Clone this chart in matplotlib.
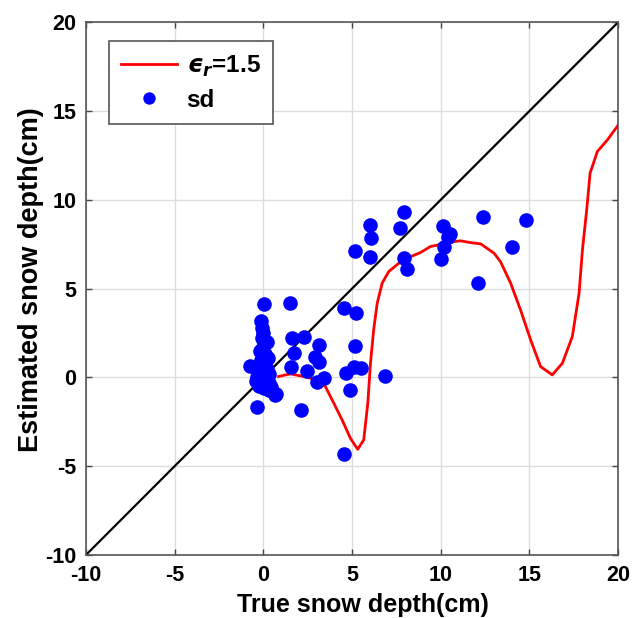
import matplotlib
matplotlib.use("Agg")
import matplotlib.pyplot as plt

plt.rcParams['font.family'] = ['Liberation Sans', 'DejaVu Sans']
plt.rcParams['font.weight'] = 'bold'
plt.rcParams['axes.unicode_minus'] = False
plt.rcParams['mathtext.fontset'] = 'custom'
plt.rcParams['mathtext.rm'] = 'Liberation Sans:bold'
plt.rcParams['mathtext.it'] = 'DejaVu Sans:italic:bold'
plt.rcParams['mathtext.bf'] = 'Liberation Sans:bold'

# Modelled estimate for relative permittivity 1.5
curve_x = [0.86, 1.52, 2.27, 3.03, 3.5, 3.97, 4.44, 4.91, 5.32, 5.66, 5.89, 6.04,
           6.22, 6.42, 6.7, 7.07, 7.64, 8.3, 8.86, 9.42, 10.37, 10.74, 11.12, 11.68,
           12.25, 13.0, 13.37, 13.94, 14.5, 15.07, 15.63, 16.29, 16.86, 17.42, 17.8,
           17.99, 18.23, 18.42, 18.83, 19.4, 20.0]
curve_y = [0.05, 0.2, 0.05, -0.14, -0.52, -1.45, -2.39, -3.43, -4.05, -3.52, -1.45, 0.8,
           2.68, 4.18, 5.31, 5.96, 6.43, 6.8, 7.03, 7.37, 7.56, 7.65, 7.69, 7.59,
           7.52, 7.0, 6.52, 5.31, 3.8, 2.11, 0.61, 0.14, 0.8, 2.3, 4.74,
           7.18, 9.44, 11.5, 12.72, 13.38, 14.2]

# Snow depth samples: true vs estimated
sd_true = [0.02, -0.11, 0.0, -0.1, 0.05, -0.05, 0.1, -0.15, 0.0, 0.2, -0.2, 0.1,
           -0.1, 0.3, -0.25, 0.05, 0.45, -0.35, 0.2, -0.2, 0.25, 0.3, -0.4, -0.73,
           -0.36, 0.68, 0.3, -0.05, 0.1,
           1.52, 4.53, 5.25, 1.62, 2.27, 3.12, 1.71, 2.93, 3.12, 5.19, 1.56, 2.47,
           3.03, 3.4, 4.68, 5.1, 5.48, 6.88, 4.87, 2.13, 4.57, 0.73,
           7.92, 6.0, 7.73, 6.08, 5.14, 6.0, 7.92, 8.11,
           10.12, 10.55, 10.18, 9.99, 10.4, 12.36, 14.82, 14.03, 12.09]
sd_est = [4.14, 3.2, 2.5, 2.2, 1.9, 1.6, 1.3, 1.0, 0.8, 0.5, 0.3, 0.1,
          -0.1, -0.3, -0.5, -0.6, -0.55, 0.05, 2.0, 1.5, 1.1, 0.2, -0.2, 0.65,
          -1.64, -0.99, -0.7, 2.8, 1.2,
          4.21, 3.9, 3.6, 2.21, 2.3, 1.83, 1.36, 1.17, 0.89, 1.77, 0.61, 0.38,
          -0.24, -0.05, 0.24, 0.61, 0.52, 0.1, -0.7, -1.83, -4.31, -0.93,
          9.34, 8.59, 8.44, 7.86, 7.09, 6.8, 6.71, 6.1,
          8.54, 8.08, 7.37, 6.66, 7.9, 9.06, 8.87, 7.37, 5.34]

ticks = [-10, -5, 0, 5, 10, 15, 20]
one_to_one = [-10, 20]

fig = plt.figure(figsize=(6.32, 6.18), dpi=100)
ax = fig.add_axes([0.136, 0.102, 0.842, 0.862])

ax.grid(True, color='#dcdcdc', linewidth=1.0)
ax.set_axisbelow(True)

ax.plot(one_to_one, one_to_one, color='black', linewidth=1.6, zorder=2)
ax.plot(curve_x, curve_y, color='red', linewidth=2.0, zorder=3,
        label='$\u03f5_r$=1.5')
ax.plot(sd_true, sd_est, 'o', color='blue', markersize=10.5, markeredgewidth=0,
        zorder=4, label='sd')

ax.set_xlim(-10, 20)
ax.set_ylim(-10, 20)
ax.set_xticks(ticks)
ax.set_yticks(ticks)
ax.tick_params(direction='in', top=True, right=True, length=4, width=1.0,
               labelsize=15.5, color='#444444', pad=7)
for lab in ax.get_xticklabels() + ax.get_yticklabels():
    lab.set_fontweight('bold')
for s in ax.spines.values():
    s.set_color('#555555')
    s.set_linewidth(1.2)

ax.set_xlabel('True snow depth(cm)', fontsize=18, fontweight='bold')
ax.set_ylabel('Estimated snow depth(cm)', fontsize=19.5, fontweight='bold')
ax.xaxis.set_label_coords(0.52, -0.072)
ax.yaxis.set_label_coords(-0.078, 0.516)

leg = ax.legend(loc='upper left', bbox_to_anchor=(0.043, 0.964), borderaxespad=0,
                fancybox=False, framealpha=1, edgecolor='#555555',
                prop={'family': 'Liberation Sans', 'weight': 'bold', 'size': 17.5},
                handlelength=2.3, markerscale=0.85, labelspacing=0.4,
                borderpad=0.5, handletextpad=0.4)
leg.get_frame().set_linewidth(1.2)

fig.savefig('out.png', dpi=100, facecolor='white')
